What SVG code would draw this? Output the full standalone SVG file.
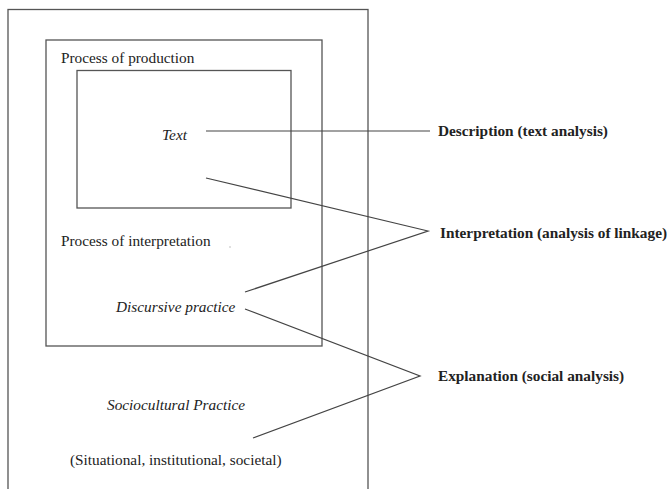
<svg xmlns="http://www.w3.org/2000/svg" width="667" height="489" viewBox="0 0 667 489">
<style>
.box{fill:none;stroke:#555;stroke-width:1.3}
.con{fill:none;stroke:#444;stroke-width:1.2}
.t{font-family:"Liberation Serif","Times New Roman",serif;font-size:15.3px;fill:#222}
.i{font-style:italic}
.b{font-weight:bold}
</style>
<rect width="667" height="489" fill="#fff"/>
<g id="sociocultural">
<rect class="box" x="8" y="9.5" width="360" height="500"/>
<text class="t i" x="107" y="410">Sociocultural Practice</text>
<text class="t" x="70" y="465">(Situational, institutional, societal)</text>
</g>
<g id="discursive">
<rect class="box" x="46" y="40" width="276" height="306"/>
<text class="t" x="61" y="63">Process of production</text>
<text class="t" x="61" y="246">Process of interpretation</text>
<circle cx="230" cy="247" r="0.7" fill="#aaa"/>
<text class="t i" x="116" y="312">Discursive practice</text>
</g>
<g id="text">
<rect class="box" x="77" y="70.5" width="214" height="137.5"/>
<text class="t i" x="162" y="140">Text</text>
</g>
<g id="connectors">
<line class="con" x1="206" y1="131" x2="430" y2="131"/>
<polyline class="con" points="206,178 428,231 245,292"/>
<polyline class="con" points="245,309 420,376 253,438"/>
</g>
<g id="description">
<text class="t b" x="438" y="136">Description (text analysis)</text>
</g>
<g id="interpretation">
<text class="t b" x="440" y="238">Interpretation (analysis of linkage)</text>
</g>
<g id="explanation">
<text class="t b" x="438" y="381">Explanation (social analysis)</text>
</g>
</svg>
